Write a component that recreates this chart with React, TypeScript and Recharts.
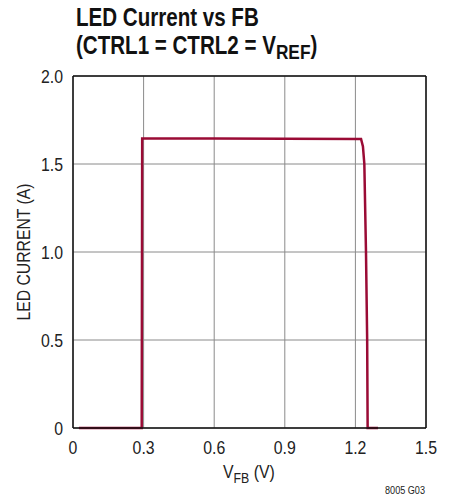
import React from 'react';
import { LineChart, Line, XAxis, YAxis, CartesianGrid, ReferenceLine } from 'recharts';

// V_FB (V) vs LED current (A)
const vfb = [0.025, 0.292, 0.294, 0.6, 0.9, 1.224, 1.232, 1.238, 1.245, 1.25, 1.252, 1.296];
const ledCurrent = [0, 0, 1.645, 1.645, 1.643, 1.642, 1.6, 1.5, 1.0, 0.5, 0, 0];

const xTicks = [0, 0.3, 0.6, 0.9, 1.2, 1.5];
const yTicks = [0, 0.5, 1.0, 1.5, 2.0];

const data = vfb.map((v, i) => ({ v, i: ledCurrent[i] }));

// no narrow font installed, so squeeze Liberation Sans horizontally
const FONT = "'Liberation Sans', Arial, sans-serif";
const LINE = '#9a0b35';
const TXT = '#222';

const XTick = (props: any) => {
  const { x, y, payload } = props;
  const label = payload.value === 0 ? '0' : String(payload.value);
  return (
    <g transform={`translate(${x} ${y + 26}) scale(0.88 1)`}>
      <text textAnchor="middle" fontSize={18} fill={TXT} fontFamily={FONT}>{label}</text>
    </g>
  );
};

const YTick = (props: any) => {
  const { x, y, payload } = props;
  const label = payload.value === 0 ? '0' : payload.value.toFixed(1);
  return (
    <g transform={`translate(${x - 10} ${y + 6.5}) scale(0.88 1)`}>
      <text textAnchor="end" fontSize={18} fill={TXT} fontFamily={FONT}>{label}</text>
    </g>
  );
};

export default function App() {
  return (
    <div style={{ position: 'absolute', left: 0, top: 0, width: 456, height: 501, background: '#fff' }}>
      <LineChart
        width={456}
        height={501}
        data={data}
        margin={{ top: 76, right: 30, bottom: 43, left: 33 }}
      >
        <CartesianGrid stroke="#8a8a8a" strokeWidth={1} />
        <XAxis
          dataKey="v"
          type="number"
          domain={[0, 1.5]}
          ticks={xTicks}
          height={30}
          tickLine={false}
          tickSize={0}
          tickMargin={0}
          tick={<XTick />}
          axisLine={{ stroke: '#111', strokeWidth: 1.5 }}
        />
        <YAxis
          type="number"
          domain={[0, 2]}
          ticks={yTicks}
          width={40}
          tickLine={false}
          tickSize={0}
          tickMargin={0}
          tick={<YTick />}
          axisLine={{ stroke: '#111', strokeWidth: 1.5 }}
        />
        <ReferenceLine y={2} stroke="#111" strokeWidth={1.5} />
        <ReferenceLine x={1.5} stroke="#111" strokeWidth={1.5} />
        <Line
          type="linear"
          dataKey="i"
          stroke={LINE}
          strokeWidth={2.5}
          dot={false}
          isAnimationActive={false}
        />
      </LineChart>
      <svg
        width={456}
        height={501}
        style={{ position: 'absolute', left: 0, top: 0, pointerEvents: 'none' }}
        fontFamily={FONT}
      >
        <g transform="translate(76 26) scale(0.823 1)">
          <text x={0} y={0} fontSize={25} fontWeight="bold" fill="#111">LED Current vs FB</text>
        </g>
        <g transform="translate(76 54) scale(0.823 1)">
          <text x={0} y={0} fontSize={25} fontWeight="bold" fill="#111">
            (CTRL1 = CTRL2 = V
            <tspan dy={5} fontSize={21}>REF</tspan>
            <tspan dy={-5}>)</tspan>
          </text>
        </g>
        <g transform="translate(223 478) scale(0.88 1)">
          <text x={0} y={0} fontSize={18} fill={TXT}>
            V<tspan dy={5} fontSize={14}>FB</tspan>
            <tspan dy={-5}> (V)</tspan>
          </text>
        </g>
        <text
          x={0}
          y={0}
          fontSize={18}
          fill={TXT}
          textAnchor="middle"
          textLength={137}
          lengthAdjust="spacingAndGlyphs"
          transform="translate(30 252) rotate(-90)"
        >
          LED CURRENT (A)
        </text>
        <text
          x={385}
          y={494}
          fontSize={10}
          fill={TXT}
          textLength={40}
          lengthAdjust="spacingAndGlyphs"
        >
          8005 G03
        </text>
      </svg>
    </div>
  );
}
